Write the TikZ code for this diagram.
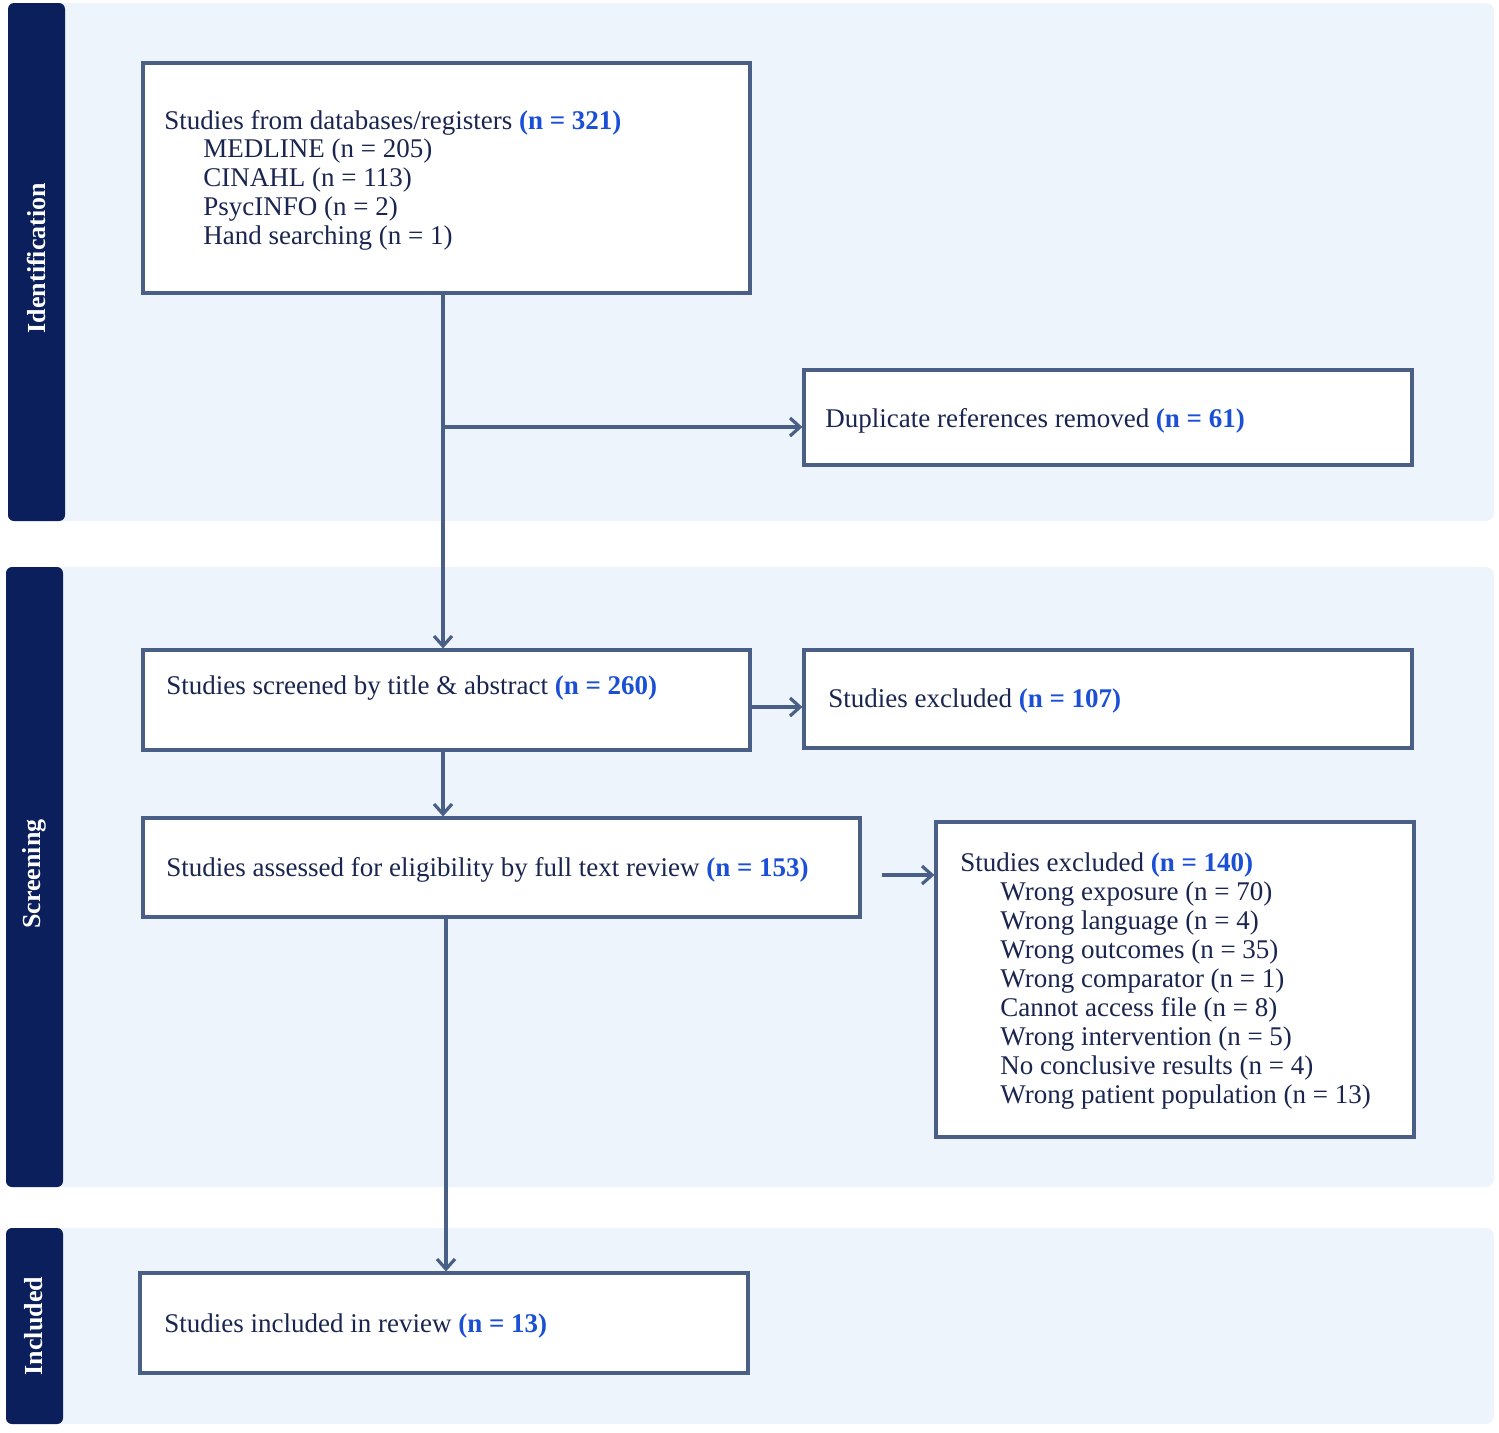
\documentclass[tikz,border=0pt]{standalone}
\usepackage{fontspec}
\setmainfont{Liberation Serif}
\definecolor{navy}{HTML}{0B1F5C}
\definecolor{panel}{HTML}{EEF4FC}
\definecolor{edge}{HTML}{4A5F85}
\definecolor{nblue}{HTML}{1A4FD6}
\definecolor{ink}{HTML}{1A2550}
\newcommand{\nn}[1]{\textcolor{nblue}{\textbf{#1}}}
\begin{document}
\begin{tikzpicture}[x=0.5pt,y=-0.5pt,
  box/.style={draw=edge,line width=1.6pt,fill=white,inner sep=0pt},
  txt/.style={anchor=west,text=ink,font=\fontsize{13.5}{14.5}\selectfont,align=left,inner sep=0pt},
  arr/.style={draw=edge,line width=1.6pt,->,>={Straight Barb[length=5pt,width=9pt]}},
  lbl/.style={rotate=90,text=white,font=\bfseries\fontsize{13}{14}\selectfont}]
\usetikzlibrary{arrows.meta}
\useasboundingbox (0,0) rectangle (1499,1432);
% panels
\fill[panel,rounded corners=4pt] (8,3) rectangle (1494,521);
\fill[panel,rounded corners=4pt] (6,567) rectangle (1494,1187);
\fill[panel,rounded corners=4pt] (6,1228) rectangle (1494,1424);
\fill[navy,rounded corners=3pt] (8,3) rectangle (65,521);
\fill[navy,rounded corners=3pt] (6,567) rectangle (63,1187);
\fill[navy,rounded corners=3pt] (6,1228) rectangle (63,1424);
\node[lbl] at (36,258) {Identification};
\node[lbl] at (34,874) {Screening};
\node[lbl] at (34,1326) {Included};
% boxes
\node[box,minimum width=303.5pt,minimum height=115pt] (src) at (446.5,178) {};
\node[box,minimum width=304pt,minimum height=47.5pt] (dup) at (1108,417.5) {};
\node[box,minimum width=303.5pt,minimum height=50pt] (scr) at (446.5,700) {};
\node[box,minimum width=304pt,minimum height=49pt] (ex1) at (1108,699) {};
\node[box,minimum width=358.5pt,minimum height=49.5pt] (elig) at (501.5,867.5) {};
\node[box,minimum width=239pt,minimum height=157.5pt] (ex2) at (1175,979.5) {};
\node[box,minimum width=304pt,minimum height=50pt] (inc) at (444,1323) {};
% texts
\node[txt] (t1) at (164,123) {Studies from databases/registers \nn{(n = 321)}};
\node[txt] (t1b) at (203,195) {MEDLINE (n = 205)\\CINAHL (n = 113)\\PsycINFO (n = 2)\\Hand searching (n = 1)};
\node[txt] (t2) at (825,421) {Duplicate references removed \nn{(n = 61)}};
\node[txt] (t3) at (166,688) {Studies screened by title \& abstract \nn{(n = 260)}};
\node[txt] (t4) at (828,701) {Studies excluded \nn{(n = 107)}};
\node[txt] (t5) at (166,870) {Studies assessed for eligibility by full text review \nn{(n = 153)}};
\node[txt] (t6) at (960,865) {Studies excluded \nn{(n = 140)}};
\node[txt] (t6b) at (1000,996) {Wrong exposure (n = 70)\\Wrong language (n = 4)\\Wrong outcomes (n = 35)\\Wrong comparator (n = 1)\\Cannot access file (n = 8)\\Wrong intervention (n = 5)\\No conclusive results (n = 4)\\Wrong patient population (n = 13)};
\node[txt] (t7) at (164,1326) {Studies included in review \nn{(n = 13)}};
% arrows
\coordinate (br) at (443,427);
\draw[arr] (src.south -| br) -- (scr.north -| br);
\draw[arr] (br) -- (dup.west |- br);
\draw[arr] (scr.east |- 0,707) -- (ex1.west |- 0,707);
\draw[arr] (scr.south -| br) -- (elig.north -| br);
\coordinate (e2s) at (882,875);
\draw[arr] (e2s) -- (ex2.west |- e2s);
\draw[arr] (elig.south -| 446,0) -- (inc.north -| 446,0);
\end{tikzpicture}
\end{document}
